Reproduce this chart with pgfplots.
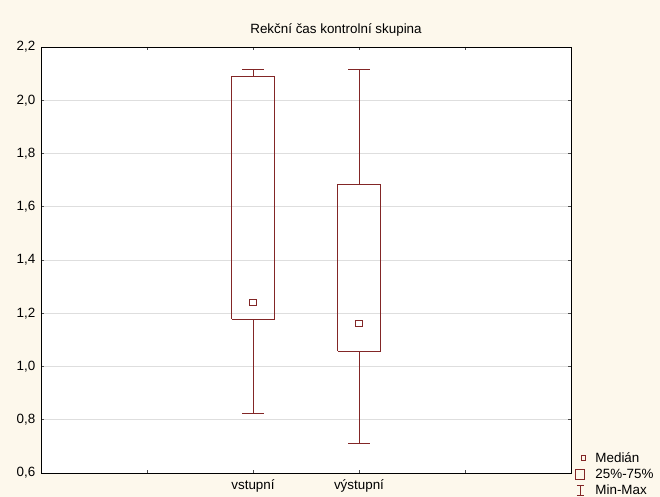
\documentclass[border=0pt]{standalone}
\usepackage{pgfplots}
\pgfplotsset{compat=1.18}
\usepackage{fontspec}
\setmainfont{Liberation Sans}
\definecolor{bg}{RGB}{253,248,236}
\definecolor{boxc}{RGB}{130,38,38}
\definecolor{gridc}{RGB}{222,222,222}
\newcommand{\fs}{\fontsize{13.4bp}{15bp}\selectfont}
\begin{document}
\fs
\begin{tikzpicture}
\fill[bg] (0,0) rectangle (660bp,497bp);
\useasboundingbox (0,0) rectangle (660bp,497bp);
\begin{axis}[
  at={(41bp,24bp)}, anchor=south west,
  scale only axis, width=530bp, height=426bp,
  xmin=0, xmax=5, ymin=0.6, ymax=2.2,
  xtick={1,2,3,4}, xticklabels={,vstupní,výstupní,},
  ytick={0.6,0.8,1.0,1.2,1.4,1.6,1.8,2.0,2.2},
  ymajorgrids, grid style={gridc, line width=0.8bp},
  major tick length=3bp,
  axis line style={black, line width=0.8bp},
  tick style={black!70, line width=0.6bp},
  axis background/.style={fill=white},
  /pgf/number format/.cd, use comma, fixed, fixed zerofill, precision=1, assume math mode=true,
  /pgfplots/.cd,
  ticklabel style={font=\fs},
  xticklabel style={yshift=-2bp},
  yticklabel style={xshift=-1bp},
  legend style={at={(1,0)}, anchor=south west, xshift=4bp, yshift=-24bp,
    draw=none, fill=none, inner sep=0pt, row sep=3.5bp, column sep=9bp,
    font=\fs,
    nodes={inner sep=0.5bp}},
  legend cell align=left,
]
\addlegendimage{only marks, mark=square, mark size=2.3bp, boxc, line width=1bp}
\addlegendentry{Medián}
\addlegendimage{legend image code/.code={\draw[boxc, line width=1bp] (0.02cm,-0.17cm) rectangle (0.33cm,0.17cm);}}
\addlegendentry{25\%-75\%}
\addlegendimage{legend image code/.code={\draw[boxc, line width=1bp] (0.18cm,-0.17cm) -- (0.18cm,0.17cm) (0.06cm,-0.17cm) -- (0.30cm,-0.17cm) (0.06cm,0.17cm) -- (0.30cm,0.17cm);}}
\addlegendentry{Min-Max}
% vstupni: min 0.824, q1 1.177, median 1.240, q3 2.091, max 2.116
\addplot[boxc, line width=1bp, forget plot] coordinates {
  (1.8,1.177) (2.2,1.177) (2.2,2.091) (1.8,2.091) (1.8,1.177)};
\addplot[boxc, line width=1bp, forget plot] coordinates {
  (2,2.091) (2,2.116)

  (1.9,2.116) (2.1,2.116)

  (2,1.177) (2,0.824)

  (1.9,0.824) (2.1,0.824)};
% vystupni: min 0.709, q1 1.058, median 1.161, q3 1.682, max 2.116
\addplot[boxc, line width=1bp, forget plot] coordinates {
  (2.8,1.058) (3.2,1.058) (3.2,1.682) (2.8,1.682) (2.8,1.058)};
\addplot[boxc, line width=1bp, forget plot] coordinates {
  (3,1.682) (3,2.116)

  (2.9,2.116) (3.1,2.116)

  (3,1.058) (3,0.709)

  (2.9,0.709) (3.1,0.709)};
\addplot[only marks, mark=square, mark size=3.2bp, boxc, line width=1bp, forget plot]
  coordinates {(2,1.240) (3,1.161)};
\end{axis}
\node[font=\fs] at (336bp,467bp) {Rekční čas kontrolní skupina};
\end{tikzpicture}
\end{document}
